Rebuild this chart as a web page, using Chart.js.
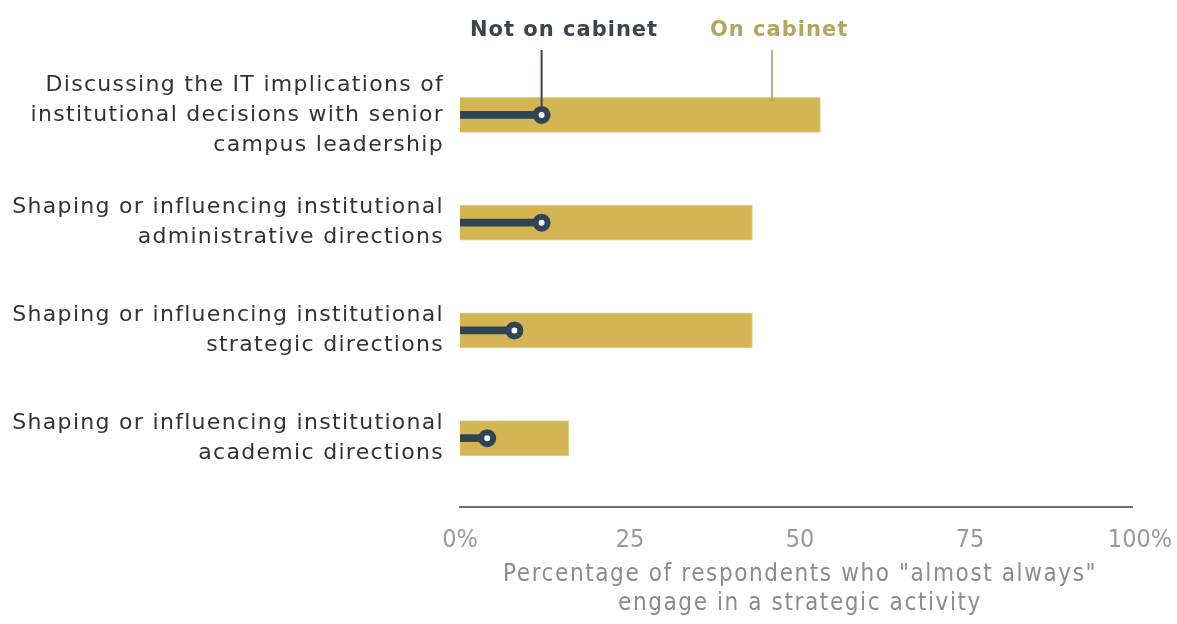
<!DOCTYPE html>
<html>
<head>
<meta charset="utf-8">
<script src="https://cdn.jsdelivr.net/npm/chart.js@4.4.0/dist/chart.umd.min.js"></script>
<style>
  html, body { margin: 0; padding: 0; background: #ffffff; }
  #wrap { width: 1177px; height: 624px; position: relative; }
</style>
</head>
<body>
<div id="wrap"><canvas id="chart" width="1177" height="624"></canvas></div>
<script>
// Strategic activities (multi-line category labels)
const activities = [
  ['Discussing the IT implications of', 'institutional decisions with senior', 'campus leadership'],
  ['Shaping or influencing institutional', 'administrative directions'],
  ['Shaping or influencing institutional', 'strategic directions'],
  ['Shaping or influencing institutional', 'academic directions']
];

// Share of respondents (%) who "almost always" engage, by cabinet membership
const onCabinet = [53, 43, 43, 16];
const notOnCabinet = [12, 12, 8, 4];

// Axis ticks
const xTicks = [0, 25, 50, 75, 100];
const xTickLabels = ['0%', '25', '50', '75', '100%'];

const seriesNames = ['Not on cabinet', 'On cabinet'];
const axisTitle = ['Percentage of respondents who "almost always"', 'engage in a strategic activity'];

const DARK = '#2f4455';
const GOLD = '#d3b554';
const LABEL_FONT = "'DejaVu Sans', sans-serif";
const AXIS_FONT = "'DejaVu Sans Condensed', 'DejaVu Sans', sans-serif";

// Run one of a scale's draw steps with a given canvas letter spacing
function withSpacing(scale, method, spacing) {
  const key = '_plain_' + method;
  if (scale[key]) return;
  scale[key] = scale[method];
  scale[method] = function (...args) {
    const ctx = this.ctx;
    const prev = ctx.letterSpacing;
    ctx.letterSpacing = spacing;
    this[key](...args);
    ctx.letterSpacing = prev;
  };
}

// Series labels above the plot with leader lines to the first row
const seriesLabels = {
  id: 'seriesLabels',
  afterDraw(chart) {
    const { ctx, scales } = chart;
    const x = scales.x, y = scales.y;
    const rowY = y.getPixelForValue(0);
    ctx.save();
    ctx.letterSpacing = '1px';
    ctx.font = "bold 21px " + LABEL_FONT;
    ctx.textBaseline = 'middle';
    ctx.textAlign = 'left';
    ctx.fillStyle = '#37464f';
    ctx.fillText(seriesNames[0], 470, 31);
    ctx.fillStyle = '#b4a65e';
    ctx.fillText(seriesNames[1], 710, 31);
    ctx.letterSpacing = '0px';

    // leader to the first "not on cabinet" marker
    ctx.lineWidth = 2;
    ctx.strokeStyle = '#37464f';
    const dx = x.getPixelForValue(notOnCabinet[0]);
    ctx.beginPath();
    ctx.moveTo(dx, 50);
    ctx.lineTo(dx, rowY - 9);
    ctx.stroke();

    // leader to the first "on cabinet" bar
    ctx.lineWidth = 1.5;
    ctx.strokeStyle = '#a69a72';
    ctx.beginPath();
    ctx.moveTo(772, 50);
    ctx.lineTo(772, rowY - 14);
    ctx.stroke();
    ctx.restore();
  }
};

// Baseline drawn a little below the last row
const baseline = {
  id: 'baseline',
  afterDraw(chart) {
    const { ctx, chartArea } = chart;
    ctx.save();
    ctx.strokeStyle = '#6b6b6b';
    ctx.lineWidth = 2;
    ctx.beginPath();
    ctx.moveTo(chartArea.left - 1, chartArea.bottom + 15);
    ctx.lineTo(chartArea.right - 7, chartArea.bottom + 15);
    ctx.stroke();
    ctx.restore();
  }
};

new Chart(document.getElementById('chart'), {
  type: 'bar',
  data: {
    labels: activities,
    datasets: [
      {
        type: 'line',
        label: seriesNames[0] + ' marker',
        data: notOnCabinet,
        indexAxis: 'y',
        showLine: false,
        pointRadius: 6,
        pointHoverRadius: 6,
        pointBorderWidth: 6,
        pointBorderColor: DARK,
        pointBackgroundColor: '#ffffff',
        order: 1
      },
      {
        label: seriesNames[0],
        data: notOnCabinet,
        backgroundColor: DARK,
        barThickness: 7,
        grouped: false,
        order: 2
      },
      {
        label: seriesNames[1],
        data: onCabinet,
        backgroundColor: GOLD,
        borderColor: '#e2cf8c',
        borderWidth: 1,
        barThickness: 35,
        grouped: false,
        order: 3
      }
    ]
  },
  options: {
    indexAxis: 'y',
    responsive: false,
    animation: false,
    events: [],
    layout: { padding: { top: 61, right: 37, bottom: 5, left: 0 } },
    plugins: {
      legend: { display: false },
      tooltip: { enabled: false }
    },
    scales: {
      x: {
        min: 0,
        max: 100,
        afterBuildTicks(scale) {
          scale.ticks = xTicks.map(v => ({ value: v }));
        },
        afterFit(scale) {
          scale.height = 127;
          scale.paddingLeft = 0;
          scale.paddingRight = 0;
          withSpacing(scale, 'drawTitle', '1.6px');
        },
        grid: { display: false, drawTicks: false },
        border: { display: false },
        ticks: {
          padding: 33,
          color: '#9a9a9a',
          font: { family: AXIS_FONT, size: 25 },
          maxRotation: 0,
          callback: (v) => xTickLabels[xTicks.indexOf(v)]
        },
        title: {
          display: true,
          text: axisTitle,
          color: '#8c8c8c',
          font: { family: AXIS_FONT, size: 24, lineHeight: 1.2 },
          padding: { top: 8, bottom: 1 }
        }
      },
      y: {
        afterFit(scale) {
          scale.width = 460;
          scale.paddingTop = 0;
          scale.paddingBottom = 0;
          withSpacing(scale, 'drawLabels', '1.3px');
        },
        grid: { display: false, drawTicks: false },
        border: { display: false },
        ticks: {
          padding: 16,
          color: '#333333',
          font: { family: LABEL_FONT, size: 22, lineHeight: 1.36 }
        }
      }
    }
  },
  plugins: [seriesLabels, baseline]
});
</script>
</body>
</html>
